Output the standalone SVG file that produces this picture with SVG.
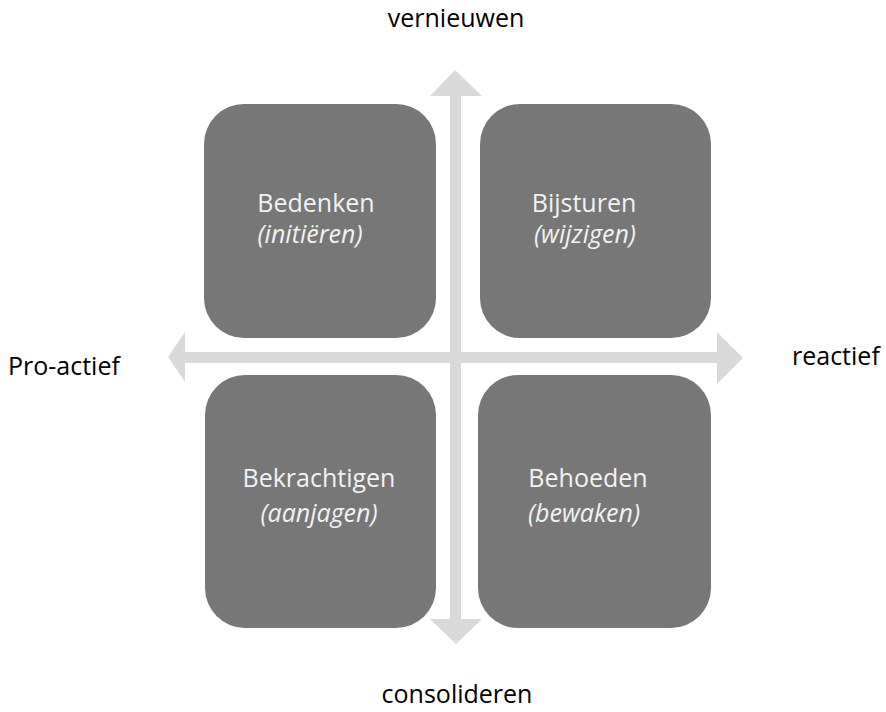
<svg xmlns="http://www.w3.org/2000/svg" width="886" height="712" viewBox="0 0 886 712">
<style>
.box{fill:#777777}
.arrow{fill:#d9d9d9}
.lbl{font-family:"Open Sans","Liberation Sans",sans-serif;font-size:25px;fill:#000000}
.t1{font-family:"Open Sans","Liberation Sans",sans-serif;font-size:25px;fill:#f2f2f2;text-anchor:middle}
.t2{font-family:"Open Sans","Liberation Sans",sans-serif;font-size:25px;font-style:italic;fill:#f2f2f2;text-anchor:middle}
</style>
<rect width="886" height="712" fill="#ffffff"/>
<g id="connectors">
<polygon class="arrow" points="455,70 482,96 461,96 461,619 482,619 456,644 430,619 450,619 450,96 430,96"/>
<polygon class="arrow" points="168,357 185,332 185,352 717,352 717,332 743,358 717,384 717,363 185,363 185,382"/>
</g>
<g id="bedenken">
<rect class="box" x="204" y="104" width="232" height="234" rx="40"/>
<text class="t1" x="316" y="212">Bedenken</text>
<text class="t2" x="310" y="243">(initiëren)</text>
</g>
<g id="bijsturen">
<rect class="box" x="480" y="104" width="231" height="234" rx="40"/>
<text class="t1" x="584" y="212">Bijsturen</text>
<text class="t2" x="585" y="243">(wijzigen)</text>
</g>
<g id="bekrachtigen">
<rect class="box" x="205" y="375" width="231" height="253" rx="40"/>
<text class="t1" x="319" y="487">Bekrachtigen</text>
<text class="t2" x="319" y="522">(aanjagen)</text>
</g>
<g id="behoeden">
<rect class="box" x="478" y="375" width="233" height="253" rx="40"/>
<text class="t1" x="588" y="487">Behoeden</text>
<text class="t2" x="584" y="522">(bewaken)</text>
</g>
<g id="labels">
<text class="lbl" x="456" y="27" text-anchor="middle">vernieuwen</text>
<text class="lbl" x="457" y="703" text-anchor="middle">consolideren</text>
<text class="lbl" x="8" y="375">Pro-actief</text>
<text class="lbl" x="792" y="365">reactief</text>
</g>
</svg>
